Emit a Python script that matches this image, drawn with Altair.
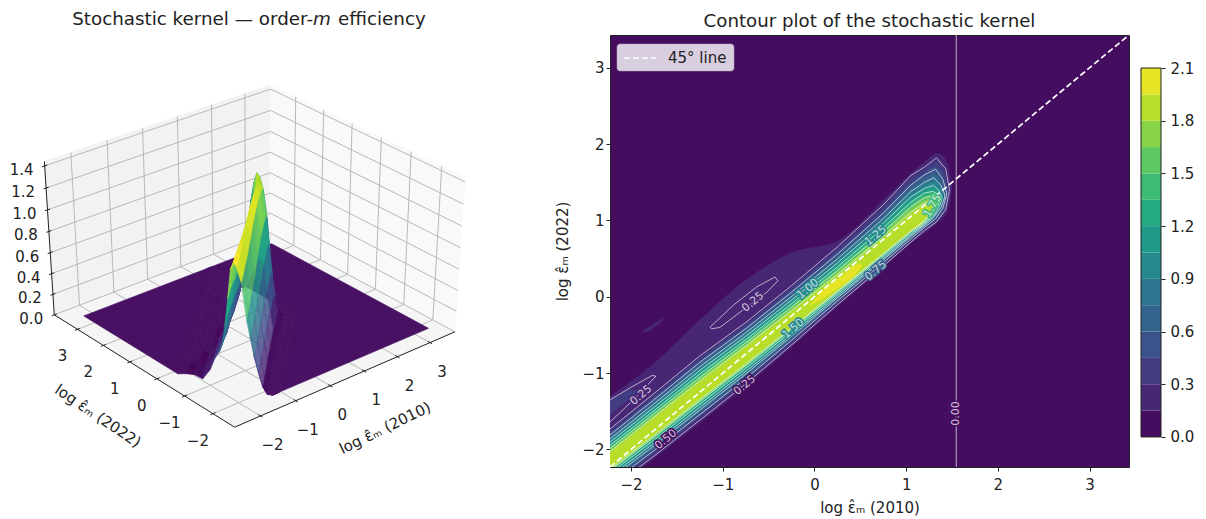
import numpy as np
import pandas as pd
import altair as alt

FONT = "DejaVu Sans"
INK = "#222222"
VIRIDIS = ["#440154", "#482475", "#414487", "#355f8d", "#2a788e", "#21918c",
           "#22a884", "#44bf70", "#7ad151", "#bddf26", "#fde725"]

# ---- values --------------------------------------------------------------
LIM0, LIM1 = -2.23, 3.43
TICKS = [-2, -1, 0, 1, 2, 3]
TICK_TEXT = ["\u22122", "\u22121", "0", "1", "2", "3"]
ZTICKS = [0.0, 0.2, 0.4, 0.6, 0.8, 1.0, 1.2, 1.4]
XLIM3 = (-2.72, 3.78)
YLIM3 = (-2.75, 3.92)
ZLIM3 = (0.0, 1.44)
ELEV, AZIM = 33.0, -130.0

# kernel surface: rows along the ridge (x), columns across it (y - x)
RIDGE_X = [-2.23, -1.73, -1.23, -0.73, -0.23, 0.27, 0.77, 1.07, 1.27, 1.42, 1.55]
RIDGE_D = [-1.2, -1.0, -.85, -.72, -.6, -.48, -.37, -.27, -.13, 0, .1, .2, .3, .4, .5, .6, .75, .95, 1.2, 1.5, 1.8, 2.1]
RIDGE_Z = [
    [0, 0, .03, .12, .27, .43, .62, .8, 1.15, 1.3, 1.33, 1.25, .98, .72, .53, .45, .37, .22, .1, .09, .05, 0],
    [0, 0, .03, .12, .27, .43, .62, .8, 1.15, 1.27, 1.28, 1.18, .95, .7, .5, .4, .3, .17, .08, .05, .02, 0],
    [0, 0, .03, .12, .27, .43, .62, .82, 1.15, 1.26, 1.24, 1.1, .88, .65, .45, .33, .24, .14, .06, .02, 0, 0],
    [0, 0, .03, .14, .28, .45, .65, .85, 1.18, 1.26, 1.2, 1.05, .82, .6, .4, .3, .2, .1, .03, 0, 0, 0],
    [0, 0, .03, .14, .3, .48, .7, .92, 1.22, 1.3, 1.18, .98, .75, .52, .35, .24, .14, .06, 0, 0, 0, 0],
    [0, 0, .03, .14, .3, .48, .72, .95, 1.22, 1.27, 1.12, .9, .68, .46, .3, .2, .09, .02, 0, 0, 0, 0],
    [0, 0, .03, .12, .28, .48, .72, .95, 1.2, 1.23, 1.08, .88, .66, .45, .3, .18, .07, 0, 0, 0, 0, 0],
    [0, 0, .02, .08, .22, .42, .68, .92, 1.15, 1.2, 1.1, .9, .7, .5, .34, .2, .08, .01, 0, 0, 0, 0],
    [0, 0, 0, .04, .14, .32, .58, .85, 1.1, 1.2, 1.22, 1.12, .95, .74, .52, .32, .12, 0, 0, 0, 0, 0],
    [0, 0, 0, 0, .03, .08, .15, .25, .35, .4, .35, .28, .2, .12, .06, .02, 0, 0, 0, 0, 0, 0],
    [0] * 22,
]
CUT_X = 1.546

# contour levels: centre of the ridge and distances of each level from it
STATIONS = [-2.3, -1.75, -1.25, -0.75, -0.25, 0.25, 0.75, 1.05]
CENTRE = [.10, .06, .03, -.01, -.05, -.09, -.11, -.12]
K_UP = [.85, .9, .95, .9, .95, 1.05, 1.2, 1.4]
K_LO = [1.15, 1.2, 1.2, 1.15, 1.0, .8, .72, .65]
LEVELS = [.15, .25, .3, .45, .5, .6, .75, .9, 1.0, 1.05, 1.2, 1.25, 1.35, 1.5, 1.65, 1.75, 1.8]
UP = [.52, .47, .45, .40, .38, .36, .32, .29, .27, .26, .23, .22, .2, .175, .15, .125, .11]
LO = [.36, .33, .31, .28, .27, .25, .22, .2, .19, .18, .16, .155, .14, .125, .115, .105, .1]
SHOULDER_15 = [-1.36, -.87, -.3, .22, .58, .73, 1.27, 1.62]
TIPS = {
    .15: [(1.2, .83, 1.77), (1.35, .98, 1.88), (1.45, 1.12, 1.75), (1.5, 1.4, 1.45)],
    .25: [(1.2, .87, 1.7), (1.33, .98, 1.82), (1.43, 1.14, 1.68), (1.47, 1.38, 1.42)],
    .3: [(1.2, .88, 1.68), (1.33, .99, 1.79), (1.42, 1.14, 1.64), (1.46, 1.36, 1.4)],
    .45: [(1.2, .9, 1.62), (1.32, 1.01, 1.7), (1.41, 1.15, 1.57), (1.45, 1.34, 1.38)],
    .5: [(1.2, .91, 1.6), (1.32, 1.02, 1.67), (1.4, 1.16, 1.54), (1.44, 1.33, 1.37)],
    .6: [(1.2, .92, 1.55), (1.31, 1.03, 1.62), (1.39, 1.16, 1.5), (1.43, 1.32, 1.36)],
    .75: [(1.2, .93, 1.5), (1.3, 1.04, 1.56), (1.38, 1.17, 1.46), (1.42, 1.3, 1.34)],
    .9: [(1.2, .94, 1.45), (1.3, 1.05, 1.5), (1.37, 1.18, 1.42), (1.4, 1.29, 1.32)],
    1.0: [(1.2, .95, 1.42), (1.3, 1.06, 1.46), (1.36, 1.18, 1.39), (1.39, 1.27, 1.3)],
    1.05: [(1.2, .95, 1.41), (1.3, 1.06, 1.44), (1.36, 1.19, 1.38), (1.39, 1.27, 1.29)],
    1.2: [(1.2, .96, 1.37), (1.29, 1.07, 1.4), (1.35, 1.19, 1.35), (1.38, 1.26, 1.28)],
    1.25: [(1.2, .96, 1.36), (1.29, 1.08, 1.38), (1.35, 1.2, 1.34), (1.37, 1.25, 1.27)],
    1.35: [(1.2, .97, 1.33), (1.28, 1.09, 1.36), (1.34, 1.2, 1.32), (1.36, 1.25, 1.27)],
    1.5: [(1.2, .98, 1.3), (1.28, 1.1, 1.32), (1.33, 1.2, 1.29), (1.35, 1.24, 1.26)],
    1.65: [(1.2, .99, 1.26), (1.27, 1.1, 1.28), (1.32, 1.21, 1.26), (1.34, 1.23, 1.25)],
    1.75: [(1.2, 1.0, 1.23), (1.27, 1.12, 1.25), (1.31, 1.21, 1.24)],
    1.8: [(1.2, 1.0, 1.21), (1.26, 1.13, 1.23), (1.3, 1.2, 1.22)],
}
TOP_BAND = [(-.05, -.12, -.11), (.1, -.02, .1), (.3, .15, .27), (.45, .3, .42), (.52, .41, .43)]
BLOB = [(-1.89, -.47, -.46), (-1.8, -.44, -.39), (-1.7, -.36, -.31), (-1.63, -.26, -.25)]
LEFT_30 = [(-2.3, -1.62, -1.4), (-2.15, -1.47, -1.3), (-2.0, -1.32, -1.22), (-1.93, -1.24, -1.22)]
LOOP_LEFT = [(-2.3, -1.4), (-2.02, -1.20), (-1.77, -1.03), (-1.73, -1.04), (-1.91, -1.27), (-2.07, -1.46), (-2.3, -1.72)]
LOOP_MID = [(-1.12, -.42), (-1.14, -.40), (-.885, -.11), (-.63, .13), (-.43, .26), (-.40, .21), (-.52, .06), (-.81, -.20), (-1.03, -.40), (-1.12, -.42)]
LINE_LEVELS = [.25, .5, .75, 1.0, 1.25, 1.5, 1.75]
FILL_LEVELS = [.15, .3, .45, .6, .75, .9, 1.05, 1.2, 1.35, 1.5, 1.65, 1.8]
LABELS = [
    (-.67, -.07, 320, "0.25", 1), (-1.89, -1.29, 320, "0.25", 1), (-.76, -1.16, 320, "0.25", 0),
    (-1.62, -1.87, 320, "0.50", 0), (-.23, -.42, 320, "1.50", 6), (-.07, .10, 320, "1.00", 6),
    (.67, .80, 320, "1.25", 6), (.67, .34, 320, "0.75", 4), (1.29, 1.19, 300, "1.75", 9),
    (1.546, -1.53, 270, "0.00", 0),
]
CBAR_TICKS = [0.0, 0.3, 0.6, 0.9, 1.2, 1.5, 1.8, 2.1]
BANDS = [round(.15 * i, 2) for i in range(15)]
TITLE_LEFT = ["Stochastic kernel \u2014 order-", "m", "efficiency"]
TITLE_RIGHT = "Contour plot of the stochastic kernel"
LABEL_2010 = "log \u03b5\u0302\u2098 (2010)"
LABEL_2022 = "log \u03b5\u0302\u2098 (2022)"
LEGEND_TEXT = "45\u00b0 line"


def viridis(t):
    t = min(max(t, 0), 1) * 10
    i = min(int(t), 9)
    f = t - i
    a = [int(VIRIDIS[i][k:k + 2], 16) for k in (1, 3, 5)]
    b = [int(VIRIDIS[i + 1][k:k + 2], 16) for k in (1, 3, 5)]
    return "#%02x%02x%02x" % tuple(int(round(p + (q - p) * f)) for p, q in zip(a, b))


BAND_COLORS = [viridis((i + .5) / 14) for i in range(14)]

# ---- camera for the 3-D panel --------------------------------------------
ASPECT = np.array([4., 4., 3.]) * 1.8294640721620434 * 25 / 24 / np.linalg.norm([4., 4., 3.])
LOW = np.array([XLIM3[0], YLIM3[0], ZLIM3[0]])
HIGH = np.array([XLIM3[1], YLIM3[1], ZLIM3[1]])
_e, _a = np.radians(ELEV), np.radians(AZIM)
W = np.array([np.cos(_e) * np.cos(_a), np.cos(_e) * np.sin(_a), np.sin(_e)])
EYE = ASPECT / 2 + 10 * W
U = np.cross([0, 0, 1], W)
U = U / np.linalg.norm(U)
V = np.cross(W, U)


def camera(p):
    p = np.atleast_2d(np.array(p, dtype=float))
    rel = (p - LOW) / (HIGH - LOW) * ASPECT - EYE
    depth = -rel @ W
    return rel @ U / depth, rel @ V / depth, depth


# view positions of the box corners in the reference fix the camera's placement
OFFX, OFFY = 8, 35
CORNERS = [((XLIM3[0], YLIM3[0], 0), (234, 430)), ((XLIM3[1], YLIM3[0], 0), (457, 329.3)),
           ((XLIM3[0], YLIM3[1], 0), (51.7, 310.7)), ((XLIM3[1], YLIM3[1], ZLIM3[1]), (270.7, 85)),
           ((XLIM3[0], YLIM3[1], ZLIM3[1]), (46.7, 160)), ((XLIM3[1], YLIM3[0], ZLIM3[1]), (463, 178)),
           ((XLIM3[1], YLIM3[1], 0), (270.7, 237))]
_u, _v, _ = camera([c[0] for c in CORNERS])
_px = np.array([c[1][0] - OFFX for c in CORNERS])
_py = np.array([c[1][1] - OFFY for c in CORNERS])
FITX = np.linalg.lstsq(np.c_[_u, np.ones(len(_u))], _px, rcond=None)[0]
FITY = np.linalg.lstsq(np.c_[_v, np.ones(len(_v))], _py, rcond=None)[0]


def proj(p):
    u, v, d = camera(p)
    return FITX[0] * u + FITX[1], FITY[0] * v + FITY[1], d


def proj1(x, y, z):
    a, b, _ = proj([(x, y, z)])
    return round(float(a[0]), 2), round(float(b[0]), 2)


def feature(points, color, opacity=1.0):
    ring = [list(proj1(*p)) for p in points]
    ring.append(ring[0])
    return {"type": "Feature", "geometry": {"type": "Polygon", "coordinates": [ring]},
            "properties": {"c": color, "o": opacity}}


# ---- 3-D panel -----------------------------------------------------------
x0, x1 = XLIM3
y0, y1 = YLIM3
z0, z1 = ZLIM3
panes = [
    feature([(x0, y0, z0), (x1, y0, z0), (x1, y1, z0), (x0, y1, z0)], "#f5f5f5"),
    feature([(x0, y1, z0), (x1, y1, z0), (x1, y1, z1), (x0, y1, z1)], "#f2f2f2"),
    feature([(x1, y0, z0), (x1, y1, z0), (x1, y1, z1), (x1, y0, z1)], "#f9f9f9"),
]

segs = []


def seg(table, a, b):
    ax_, ay_ = proj1(*a)
    bx_, by_ = proj1(*b)
    table.append({"x": ax_, "y": ay_, "x2": bx_, "y2": by_})


for t in TICKS:
    seg(segs, (t, y0, z0), (t, y1, z0))
    seg(segs, (t, y1, z0), (t, y1, z1))
    seg(segs, (x0, t, z0), (x1, t, z0))
    seg(segs, (x1, t, z0), (x1, t, z1))
for t in ZTICKS:
    seg(segs, (x0, y1, t), (x1, y1, t))
    seg(segs, (x1, y1, t), (x1, y0, t))

axes_segs = []
seg(axes_segs, (x0, y0, z0), (x1, y0, z0))
seg(axes_segs, (x0, y0, z0), (x0, y1, z0))
seg(axes_segs, (x0, y1, z0), (x0, y1, z1))
tick_rows = []
for t, s in zip(TICKS, TICK_TEXT):
    seg(axes_segs, (t, y0 - .07, z0), (t, y0 + .07, z0))
    a, b = proj1(t, y0, z0)
    tick_rows.append({"x": a + 12, "y": b + 29, "t": s})
    seg(axes_segs, (x0 - .07, t, z0), (x0 + .07, t, z0))
    a, b = proj1(x0, t, z0)
    tick_rows.append({"x": a - 15, "y": b + 27, "t": s})
for t in ZTICKS:
    seg(axes_segs, (x0 - .07, y1, t), (x0 + .07, y1, t))
    a, b = proj1(x0, y1, t)
    tick_rows.append({"x": a - 23, "y": b + 4, "t": "%.1f" % t})

ZMAX = 1.3
FLOOR = "#481163"


def grid_point(i, j):
    d = RIDGE_D[j]
    x = max(RIDGE_X[i], LIM0 - d)
    y = min(x + d, LIM1)
    return (x, y, RIDGE_Z[i][j])


ring = [(LIM0, LIM0 + RIDGE_D[-1], 0), (LIM0, LIM1, 0), (LIM1, LIM1, 0), (LIM1, LIM0, 0),
        (LIM0 - RIDGE_D[0], LIM0, 0), (RIDGE_X[-1], RIDGE_X[-1] + RIDGE_D[0], 0), (RIDGE_X[-1], LIM1, 0)]
surface = [feature(ring, FLOOR)]
cells = []
for i in range(len(RIDGE_X) - 1):
    for j in range(len(RIDGE_D) - 1):
        quad = [grid_point(i, j), grid_point(i + 1, j), grid_point(i + 1, j + 1), grid_point(i, j + 1)]
        mean_z = sum(q[2] for q in quad) / 4
        centre = [sum(q[k] for q in quad) / 4 for k in range(3)]
        depth = float(camera([centre])[2][0])
        col = FLOOR if mean_z < .03 else viridis((mean_z / ZMAX) ** 1.2)
        pale = RIDGE_D[j] < -.13 and i <= 4 and mean_z > .1
        cells.append((depth, feature(quad, col, .8 if pale else 1.0)))
cells.sort(key=lambda c: -c[0])
surface += [c[1] for c in cells]

LEFT_W, PANEL_H, RIGHT_W = 590, 432, 519
sxl = alt.Scale(domain=[0, LEFT_W], nice=False, zero=False)
syl = alt.Scale(domain=[PANEL_H, 0], nice=False, zero=False)
identity = dict(type="identity", scale=1, translate=[0, 0])


def geo(features):
    return (alt.Chart(alt.Data(values=features)).mark_geoshape(strokeWidth=.7)
            .encode(fill=alt.Fill("properties.c:N", scale=None),
                    stroke=alt.Stroke("properties.c:N", scale=None),
                    opacity=alt.Opacity("properties.o:Q", scale=None))
            .project(**identity))


def rules(rows, color, width):
    return (alt.Chart(pd.DataFrame(rows)).mark_rule(color=color, strokeWidth=width)
            .encode(x=alt.X("x:Q", scale=sxl, axis=None), y=alt.Y("y:Q", scale=syl, axis=None),
                    x2="x2:Q", y2="y2:Q"))


tick_text = (alt.Chart(pd.DataFrame(tick_rows)).mark_text(fontSize=15, font=FONT, color=INK, baseline="middle", align="center")
             .encode(x=alt.X("x:Q", scale=sxl, axis=None), y=alt.Y("y:Q", scale=syl, axis=None), text="t:N"))

ax_titles = (alt.Chart(pd.DataFrame([
    {"x": 385 - OFFX, "y": 428 - OFFY, "t": LABEL_2010, "a": 334},
    {"x": 98 - OFFX, "y": 416 - OFFY, "t": LABEL_2022, "a": 34}]))
    .mark_text(fontSize=15, font=FONT, color=INK, baseline="middle", align="center")
    .encode(x=alt.X("x:Q", scale=sxl, axis=None), y=alt.Y("y:Q", scale=syl, axis=None), text="t:N",
            angle=alt.Angle("a:Q", scale=None)))

title_rows = [
    {"x": 313 - OFFX, "y": -10, "t": TITLE_LEFT[0], "al": "right", "st": "normal"},
    {"x": 313 - OFFX, "y": -10, "t": TITLE_LEFT[1], "al": "left", "st": "italic"},
    {"x": 338 - OFFX, "y": -10, "t": TITLE_LEFT[2], "al": "left", "st": "normal"},
]
title_layers = [
    alt.Chart(pd.DataFrame([r])).mark_text(fontSize=18.3, font=FONT, color=INK, align=r["al"], fontStyle=r["st"], baseline="alphabetic")
    .encode(x=alt.X("x:Q", scale=sxl, axis=None), y=alt.Y("y:Q", scale=syl, axis=None), text="t:N")
    for r in title_rows
]

left = alt.layer(geo(panes), rules(segs, "#b8b8b8", 1), geo(surface), rules(axes_segs, "#222222", 1),
                 tick_text, ax_titles, *title_layers).properties(width=LEFT_W, height=PANEL_H)

# ---- contour panel -------------------------------------------------------
sx = alt.Scale(domain=[LIM0, LIM1], nice=False, zero=False)
sy = alt.Scale(domain=[LIM0, LIM1], nice=False, zero=False)
axis_common = dict(values=TICKS, grid=False, domain=False, tickColor=INK, tickSize=4, labelColor=INK,
                   labelFontSize=15, titleFontSize=15, titleFontWeight="normal", titleColor=INK,
                   labelFont=FONT, titleFont=FONT, format="d")
XAX = alt.X("x:Q", scale=sx, axis=alt.Axis(title=LABEL_2010, titlePadding=8, labelPadding=6, **axis_common))
YAX_AXIS = alt.Axis(title=LABEL_2022, titlePadding=11, **axis_common)
YAX = alt.Y("y:Q", scale=sy, axis=YAX_AXIS)


def level_rows(level):
    if level == 1.95:
        return TOP_BAND
    i = LEVELS.index(level)
    rows = []
    for k, x in enumerate(STATIONS):
        c = x + CENTRE[k]
        hi = SHOULDER_15[k] if level == .15 else c + K_UP[k] * UP[i]
        rows.append((x, c - K_LO[k] * LO[i], hi))
    return rows + TIPS[level]


def area(rows, color):
    df = pd.DataFrame(rows, columns=["x", "lo", "hi"])
    return (alt.Chart(df).mark_area(color=color, clip=True, interpolate="monotone")
            .encode(x=XAX, y=alt.Y("lo:Q", scale=sy, stack=None, axis=YAX_AXIS), y2="hi:Q"))


fills = [area(BLOB, BAND_COLORS[1])]
for n, lv in enumerate(FILL_LEVELS):
    fills.append(area(level_rows(lv), BAND_COLORS[n + 1]))
    if lv == .3:
        fills.append(area(LEFT_30, BAND_COLORS[2]))
fills.append(area(level_rows(1.95), BAND_COLORS[13]))

line_rows = []
for lv in LINE_LEVELS:
    rows = level_rows(lv)
    path = [(r[0], r[1]) for r in rows] + [(r[0], r[2]) for r in rows[::-1]]
    for q, (a, b) in enumerate(path):
        line_rows.append({"id": "L%s" % lv, "n": q, "x": a, "y": b})
for name, loop in (("left", LOOP_LEFT), ("mid", LOOP_MID)):
    for q, (a, b) in enumerate(loop):
        line_rows.append({"id": name, "n": q, "x": a, "y": b})
contour_lines = (alt.Chart(pd.DataFrame(line_rows)).mark_line(color="#ffffff", strokeWidth=.9, opacity=.7, clip=True)
                 .encode(x=XAX, y=YAX, detail="id:N", order="n:Q"))

cut_line = (alt.Chart(pd.DataFrame({"x": [CUT_X]})).mark_rule(color="#ffffff", strokeWidth=.9, opacity=.75)
            .encode(x=XAX))
diag = (alt.Chart(pd.DataFrame({"x": [LIM0, LIM1], "y": [LIM0, LIM1]}))
        .mark_line(color="#ffffff", strokeWidth=1.7, strokeDash=[6, 3], clip=True)
        .encode(x=XAX, y=YAX))

label_df = pd.DataFrame(LABELS, columns=["x", "y", "a", "t", "b"])
label_df["bg"] = [BAND_COLORS[b] for b in label_df["b"]]
label_halo = (alt.Chart(label_df).mark_text(fontSize=11, font=FONT, strokeWidth=3)
              .encode(x=XAX, y=YAX, text="t:N", angle=alt.Angle("a:Q", scale=None),
                      stroke=alt.Stroke("bg:N", scale=None)))
label_text = (alt.Chart(label_df).mark_text(fontSize=11, font=FONT, color="#ffffff", opacity=.75)
              .encode(x=XAX, y=YAX, text="t:N", angle=alt.Angle("a:Q", scale=None)))

one = pd.DataFrame({"a": [0]})
legend_box = (alt.Chart(one).mark_rect(color="#ffffff", opacity=.8, cornerRadius=3, stroke="#cccccc", strokeWidth=.5)
              .encode(x=alt.value(7), x2=alt.value(124), y=alt.value(9), y2=alt.value(36)))
legend_line = (alt.Chart(one).mark_rule(color="#ffffff", strokeWidth=1.7, strokeDash=[6, 3])
               .encode(x=alt.value(14), x2=alt.value(46), y=alt.value(23)))
legend_text = (alt.Chart(pd.DataFrame({"t": [LEGEND_TEXT]})).mark_text(fontSize=15, font=FONT, color=INK, align="left", baseline="middle")
               .encode(x=alt.value(58), y=alt.value(23), text="t:N"))

right = alt.layer(*fills, contour_lines, cut_line, diag, label_halo, label_text,
                  legend_box, legend_line, legend_text).properties(
    width=RIGHT_W, height=PANEL_H,
    view=alt.ViewConfig(fill=BAND_COLORS[0], stroke=INK, strokeWidth=1),
    title=alt.TitleParams(TITLE_RIGHT, fontSize=18.2, font=FONT, fontWeight="normal", color=INK, offset=3))

# ---- colour bar ----------------------------------------------------------
cb_df = pd.DataFrame({"lo": BANDS[:-1], "hi": BANDS[1:], "c": BAND_COLORS})
scb = alt.Scale(domain=[-0.171, 2.288], nice=False, zero=False)
cb_axis = alt.Axis(values=CBAR_TICKS, format=".1f", orient="right", title=None, grid=False, domain=False,
                   tickColor=INK, tickSize=4, labelColor=INK, labelFontSize=15, labelFont=FONT, labelPadding=5)
cbar_fill = (alt.Chart(cb_df).mark_rect()
             .encode(x=alt.value(0), x2=alt.value(20), y=alt.Y("lo:Q", scale=scb, axis=cb_axis), y2="hi:Q",
                     fill=alt.Fill("c:N", scale=None)))
cbar_edge = (alt.Chart(pd.DataFrame({"lo": [BANDS[0]], "hi": [BANDS[-1]]})).mark_rect(fillOpacity=0, stroke=INK, strokeWidth=1)
             .encode(x=alt.value(0), x2=alt.value(20), y=alt.Y("lo:Q", scale=scb, axis=cb_axis), y2="hi:Q"))
cbar = alt.layer(cbar_fill, cbar_edge).properties(width=20, height=PANEL_H)

chart = (alt.hconcat(left, right, cbar, spacing=12, bounds="flush")
         .properties(padding={"left": 0, "top": 2, "right": 0, "bottom": 0})
         .configure(font=FONT)
         .configure_view(strokeWidth=0))
chart.save("out.html", embed_options={"renderer": "svg", "actions": False})
